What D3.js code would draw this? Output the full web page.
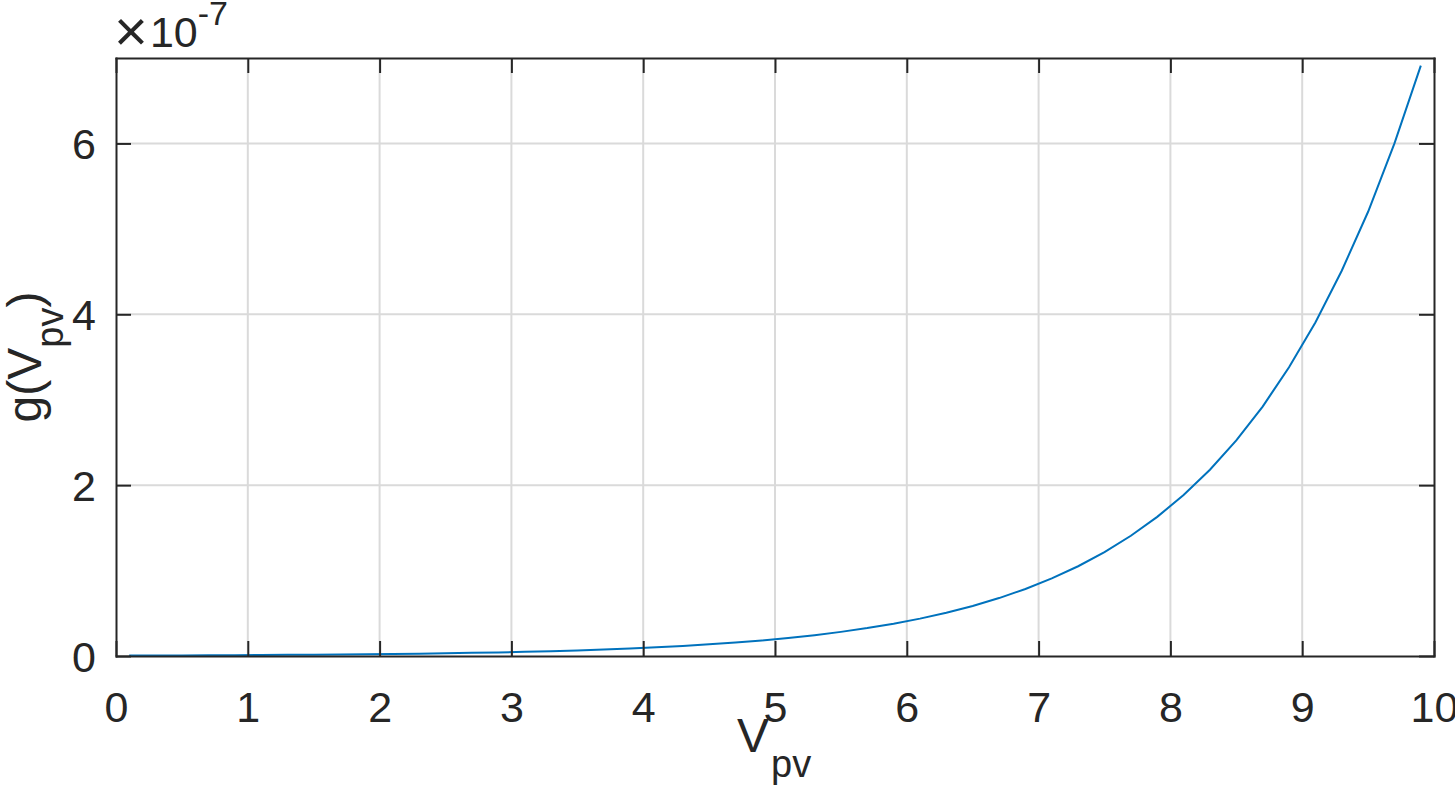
<!DOCTYPE html>
<html>
<head>
<meta charset="utf-8">
<script src="https://cdn.jsdelivr.net/npm/d3@7"></script>
<style>
  html, body { margin: 0; padding: 0; background: #fff; }
  svg { display: block; }
  svg text { font-family: "Liberation Sans", Arial, Helvetica, sans-serif; fill: #262626; }
</style>
</head>
<body>
<svg id="chart"></svg>
<script>
// データ (g は ×10^-7 単位)
const vpv = [0.1, 0.3, 0.5, 0.7, 0.9, 1.1, 1.3, 1.5, 1.7, 1.9,
             2.1, 2.3, 2.5, 2.7, 2.9, 3.1, 3.3, 3.5, 3.7, 3.9,
             4.1, 4.3, 4.5, 4.7, 4.9, 5.1, 5.3, 5.5, 5.7, 5.9,
             6.1, 6.3, 6.5, 6.7, 6.9, 7.1, 7.3, 7.5, 7.7, 7.9,
             8.1, 8.3, 8.5, 8.7, 8.9, 9.1, 9.3, 9.5, 9.7, 9.9];
const gVpv = [0.0055, 0.0063, 0.0073, 0.0085, 0.0098, 0.0114, 0.0132, 0.0152, 0.0176, 0.0204,
              0.0236, 0.0273, 0.0316, 0.0366, 0.0423, 0.049, 0.0567, 0.0656, 0.0759, 0.0878,
              0.1016, 0.1176, 0.1361, 0.1575, 0.1822, 0.2109, 0.244, 0.2824, 0.3268, 0.3782,
              0.4376, 0.5064, 0.586, 0.6781, 0.7847, 0.9081, 1.0508, 1.216, 1.4072, 1.6284,
              1.8844, 2.1806, 2.5234, 2.92, 3.379, 3.905, 4.51, 5.2, 6.0, 6.91];
const xTicks = [0, 1, 2, 3, 4, 5, 6, 7, 8, 9, 10];
const yTicks = [0, 2, 4, 6];
const exponent = "-7";

const width = 1455;
const height = 786;
const mLeft = 116, mRight = 1434, mTop = 58, mBottom = 656;

var svg = d3.select("#chart")
            .attr("width", width)
            .attr("height", height);

var x = d3.scaleLinear().domain([0, 10]).range([mLeft, mRight]);
var y = d3.scaleLinear().domain([0, 7]).range([mBottom, mTop]);

// グリッド
svg.append("g").selectAll("line")
    .data(xTicks.slice(1, -1))
    .enter().append("line")
    .attr("x1", d => x(d)).attr("x2", d => x(d))
    .attr("y1", mTop).attr("y2", mBottom)
    .attr("stroke", "#dadada").attr("stroke-width", 2);

svg.append("g").selectAll("line")
    .data(yTicks.slice(1))
    .enter().append("line")
    .attr("x1", mLeft).attr("x2", mRight)
    .attr("y1", d => y(d)).attr("y2", d => y(d))
    .attr("stroke", "#dadada").attr("stroke-width", 2);

// 曲線
var line = d3.line()
    .x((d, i) => x(vpv[i]))
    .y(d => y(d));

svg.append("path")
    .datum(gVpv)
    .attr("d", line)
    .attr("fill", "none")
    .attr("stroke", "#0072bd")
    .attr("stroke-width", 2);

// 軸
function styleAxis(g) {
    g.select(".domain").attr("stroke", "#262626").attr("stroke-width", 2);
    g.selectAll(".tick line").attr("stroke", "#262626").attr("stroke-width", 2);
}

var xAxis = svg.append("g")
    .attr("transform", `translate(0,${mBottom})`)
    .call(d3.axisBottom(x).tickValues(xTicks).tickSizeInner(-15).tickSizeOuter(0).tickFormat(d3.format("d")))
    .call(styleAxis);
xAxis.selectAll(".tick text")
    .attr("y", 66).attr("dy", 0)
    .style("font-size", "43px");

svg.append("g")
    .attr("transform", `translate(0,${mTop})`)
    .call(d3.axisTop(x).tickValues(xTicks).tickSizeInner(-15).tickSizeOuter(0).tickFormat(""))
    .call(styleAxis);

var yAxis = svg.append("g")
    .attr("transform", `translate(${mLeft},0)`)
    .call(d3.axisLeft(y).tickValues(yTicks).tickSizeInner(-15).tickSizeOuter(0).tickFormat(d3.format("d")))
    .call(styleAxis);
yAxis.selectAll(".tick text")
    .attr("x", -20).attr("dy", "0.36em")
    .style("font-size", "43px");

svg.append("g")
    .attr("transform", `translate(${mRight},0)`)
    .call(d3.axisRight(y).tickValues(yTicks).tickSizeInner(-15).tickSizeOuter(0).tickFormat(""))
    .call(styleAxis);

svg.selectAll(".domain").attr("stroke-linecap", "square");

// 指数ラベル
var expLabel = svg.append("text")
    .attr("x", 114).attr("y", 47)
    .style("font-size", "43px");
expLabel.append("tspan").text("\u00d7").attr("dy", 4).style("font-size", "58px");
expLabel.append("tspan").text("10").attr("dx", 2).attr("dy", -4);
expLabel.append("tspan").text(exponent).attr("dy", -22).style("font-size", "34px");

// x軸ラベル
var xLabel = svg.append("text")
    .attr("x", 737).attr("y", 752)
    .style("font-size", "48px");
xLabel.append("tspan").text("V");
xLabel.append("tspan").text("pv").attr("dy", 25).attr("dx", 2).style("font-size", "38px");

// y軸ラベル
var yLabel = svg.append("text")
    .attr("transform", "translate(41,357) rotate(-90)")
    .attr("text-anchor", "middle")
    .style("font-size", "48px");
yLabel.append("tspan").text("g(V");
yLabel.append("tspan").text("pv").attr("dy", 22).style("font-size", "38px");
yLabel.append("tspan").text(")").attr("dy", -22);
</script>
</body>
</html>
